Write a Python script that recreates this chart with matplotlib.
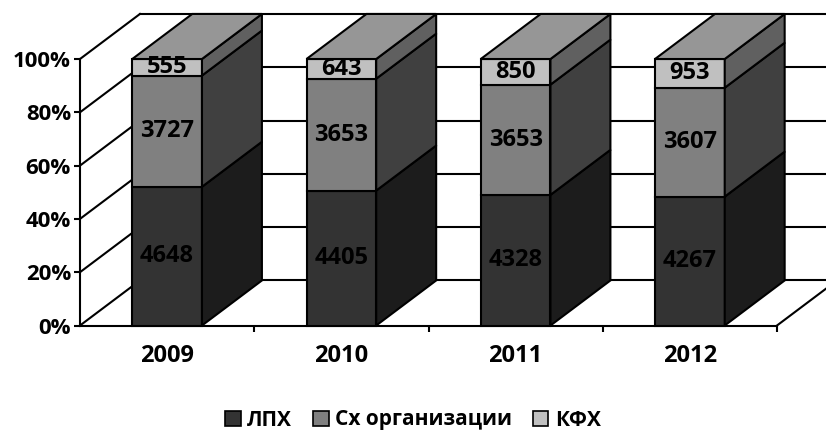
import matplotlib
matplotlib.use("Agg")
import matplotlib.pyplot as plt
import matplotlib.patches as mpatches
import numpy as np

anos = ["2009", "2010", "2011", "2012"]
series = ["ЛПХ", "Сх организации", "КФХ"]
lph = [4648, 4405, 4328, 4267]
sx_org = [3727, 3653, 3653, 3607]
kfh = [555, 643, 850, 953]

cores_frente = ["#333333", "#808080", "#c0c0c0"]
cores_lado = ["#1c1c1c", "#404040", "#606060"]
cor_topo = "#969696"

plt.rcParams['font.family'] = ['Open Sans', 'DejaVu Sans']
plt.rcParams['font.weight'] = 'bold'

DX, DY = 0.344, 16.9   # deslocamento da profundidade (pseudo 3D)
LARG = 0.4
LW = 1.5
FS = 17

fig = plt.figure(figsize=(8.26, 4.32), dpi=100)
ax = fig.add_axes([80 / 826, (432 - 325.5) / 432, 697 / 826, 266.5 / 432])
ax.set_xlim(-0.5, len(anos) - 0.5)
ax.set_ylim(0, 100)

for s in ["top", "right"]:
    ax.spines[s].set_visible(False)
for s in ["left", "bottom"]:
    ax.spines[s].set_linewidth(LW)
    ax.spines[s].set_zorder(1)

niveis = np.arange(0, 101, 20)
ax.set_yticks(niveis)
ax.set_yticklabels([f"{v}%" for v in niveis], fontsize=16, fontweight='bold')
ax.tick_params(axis='y', length=4.5, width=LW, pad=2)

x = np.arange(len(anos))
ax.set_xticks(x)
ax.set_xticklabels(anos, fontsize=FS, fontweight='bold')
ax.tick_params(axis='x', which='major', length=0, pad=13)
ax.set_xticks(x + 0.5, minor=True)
ax.tick_params(axis='x', which='minor', length=4.5, width=LW)

# paredes: diagonais da esquerda e linhas de grade do fundo
x0, x1 = -0.5, len(anos) - 0.5
for v in niveis:
    ax.plot([x0, x0 + DX], [v, v + DY], color='black', lw=LW, clip_on=False, zorder=1)
    ax.plot([x0 + DX, x1 + DX + 1], [v + DY, v + DY], color='black', lw=LW, clip_on=False, zorder=1)
ax.plot([x1, x1 + DX], [0, DY], color='black', lw=LW, clip_on=False, zorder=1)

dados = np.array([lph, sx_org, kfh], dtype=float)
pct = dados / dados.sum(axis=0) * 100

for i in range(len(anos)):
    xl, xr = x[i] - LARG / 2, x[i] + LARG / 2
    base = 0
    for k in range(len(series)):
        h = pct[k, i]
        topo = base + h
        frente = mpatches.Polygon([(xl, base), (xr, base), (xr, topo), (xl, topo)],
                                  closed=True, facecolor=cores_frente[k], edgecolor='black',
                                  lw=LW, zorder=3, clip_on=False)
        ax.add_patch(frente)
        lado = mpatches.Polygon([(xr, base), (xr + DX, base + DY), (xr + DX, topo + DY), (xr, topo)],
                                closed=True, facecolor=cores_lado[k], edgecolor='black',
                                lw=LW, zorder=3, clip_on=False)
        ax.add_patch(lado)
        t = ax.text(x[i], base + h / 2, f"{int(dados[k, i])}", ha='center', va='center',
                    fontsize=FS, fontweight='bold', color='black', zorder=4)
        t.set_clip_path(frente)
        base = topo
    tampa = mpatches.Polygon([(xl, base), (xr, base), (xr + DX, base + DY), (xl + DX, base + DY)],
                             closed=True, facecolor=cor_topo, edgecolor='black',
                             lw=LW, zorder=3, clip_on=False)
    ax.add_patch(tampa)

handles = [mpatches.Patch(facecolor=cores_frente[k], edgecolor='black', lw=1.2, label=series[k])
           for k in range(len(series))]
fig.legend(handles=handles, loc='center', bbox_to_anchor=(0.5, 1 - 420 / 432), ncol=3,
           frameon=False, handlelength=0.75, handleheight=0.75, handletextpad=0.3,
           columnspacing=1.0, prop={'size': 15, 'weight': 'bold'})

fig.savefig("out.png", dpi=100)
